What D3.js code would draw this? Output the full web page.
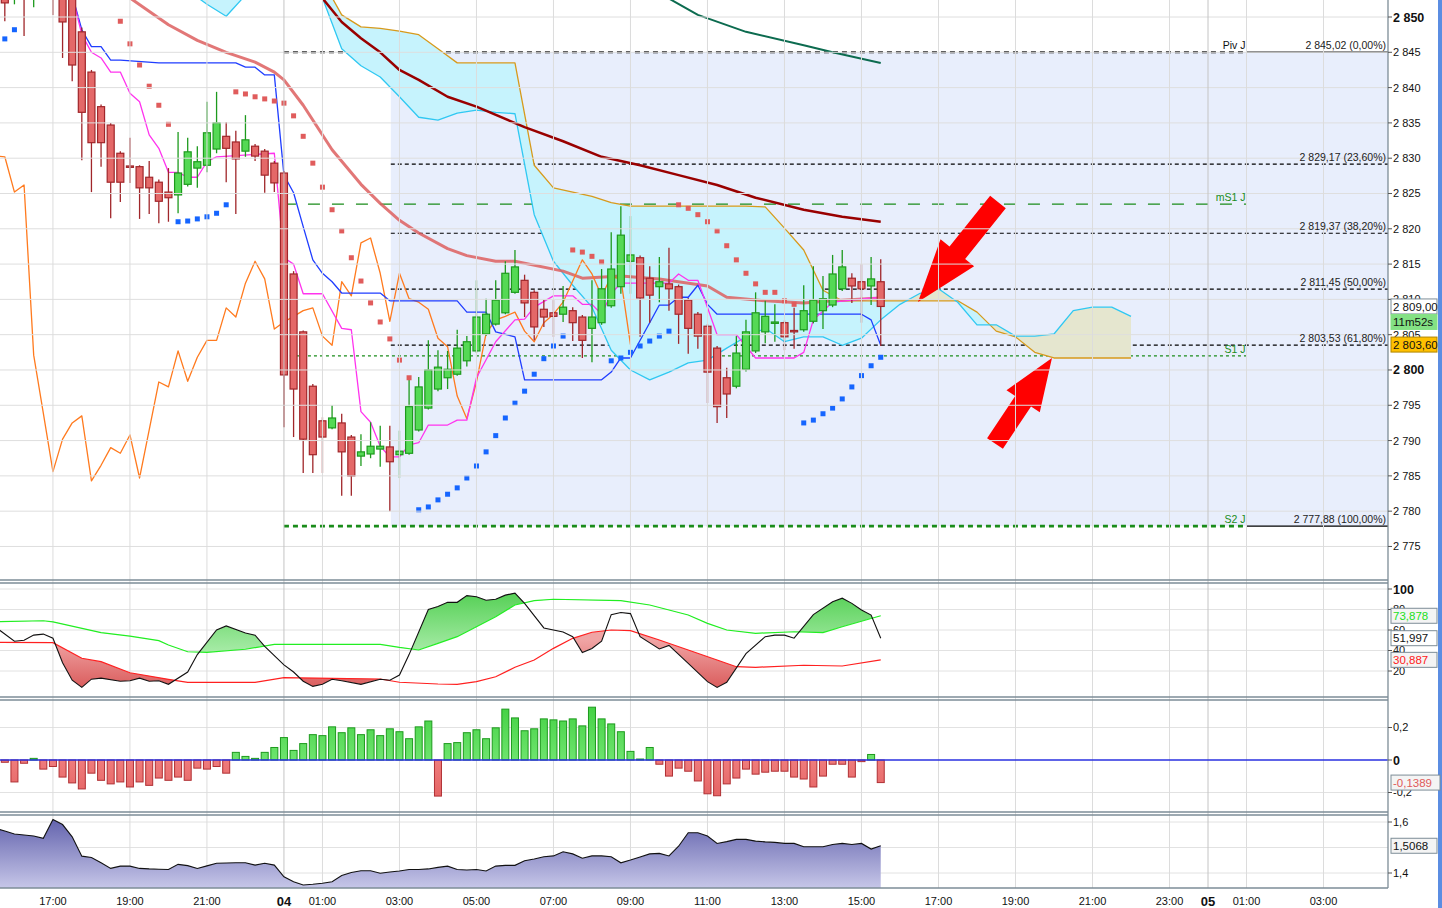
<!DOCTYPE html>
<html>
<head>
<meta charset="utf-8">
<script src="https://cdn.jsdelivr.net/npm/d3@7"></script>
<style>
  body { margin: 0; background: #fff; }
  svg { display: block; font-family: "Liberation Sans", Arial, sans-serif; }
</style>
</head>
<body>
<svg id="chart" width="1442" height="908"></svg>
<script>
// ---- data (bar index 0 = 04 00:00, one bar = 15 min) ----
var firstBar = -29;
var opens = [2856,2853.5,2858,2853,2855,2858,2855,2853,2847.9,2842.2,
  2837.3,2834.7,2830.7,2828.9,2828.8,2827.3,2826.6,2825.2,2824.8,2826.3,
  2828.6,2829.0,2831.3,2833.1,2832.3,2831.0,2831.7,2831.0,2829.3,2827.9,
  2813.6,2805.4,2797.7,2792.8,2791.8,2792.5,2790.5,2787.8,2788.1,2788.8,
  2789.1,2788.0,2788.2,2791.5,2794.6,2797.3,2798.9,2799.4,2801.3,2802.7,
  2805.1,2806.5,2808.1,2811.0,2812.7,2811.0,2808.6,2808.1,2807.9,2808.4,
  2807.5,2805.9,2806.7,2809.1,2811.8,2815.4,2815.9,2813.0,2811.8,2812.2,
  2811.8,2809.9,2807.9,2806.2,2803.1,2798.9,2797.7,2800.1,2802.7,2805.4,
  2806.6,2806.7,2805.6,2805.7,2806.9,2808.4,2809.2,2811.5,2813.0,2812.5,
  2811.9,2812.5];
var highs = [2858,2859,2860,2858,2859,2859,2857,2854,2848.5,2842.5,
  2837.6,2835,2831,2832.9,2829,2829.6,2827,2828.6,2833.7,2832.9,
  2831.7,2838.0,2839.4,2835.1,2833.9,2836.1,2832,2831.3,2829.6,2828.2,
  2814,2805.6,2798,2793.3,2795.0,2793.8,2790.8,2790.9,2792.6,2792.1,
  2792.1,2791.4,2798.7,2799.0,2804.2,2802.8,2802.7,2805.7,2804.8,2812.7,
  2810.1,2812.7,2815.4,2817.0,2813.5,2811.3,2809.9,2809.9,2811.9,2808.9,
  2807.8,2812.7,2814.3,2819.5,2823.2,2821.8,2816.2,2814.7,2816.0,2817.3,
  2812.1,2810.2,2808.2,2806.5,2803.4,2800.3,2804.8,2807.1,2811.0,2809.8,
  2809.3,2807.0,2808.8,2812.0,2814.7,2813.3,2816.3,2817.0,2813.7,2815.0,
  2816.0,2815.7];
var lows = [2849.4,2851.8,2847.3,2851.4,2853,2850.3,2844.2,2840.9,2829.7,2825.2,
  2828.8,2821.5,2823.8,2826.5,2821.4,2822.1,2820.8,2821,2822.2,2826,
  2825.8,2828.0,2830.7,2826.6,2822.1,2830.2,2829.6,2825.1,2825.2,2791.9,
  2790.5,2785.4,2785.4,2785.4,2791.6,2782.2,2782.2,2786.4,2787.5,2786.3,
  2780.0,2784.7,2788.0,2791.3,2794.4,2797.0,2797.3,2799.2,2800.5,2802.4,
  2804.8,2806.3,2807.9,2810.8,2807.5,2804.2,2806.1,2804.7,2806.8,2804.1,
  2801.7,2801.1,2806.4,2808.8,2810.8,2810.8,2804.7,2806.7,2809.6,2808.4,
  2803.7,2802.3,2803.0,2795.3,2792.5,2793.2,2797.4,2799.8,2802.4,2803.8,
  2804.0,2802.8,2803.0,2805.4,2806.6,2805.8,2808.9,2811.2,2809.5,2806.7,
  2809.2,2803.4];
var closes = [2852,2857,2853,2856,2857,2854,2849.3,2843.2,2836.5,2832.2,
  2832.2,2826.6,2826.6,2828.7,2825.8,2825.8,2823.9,2824.4,2827.9,2830.9,
  2829.5,2833.6,2835.0,2831.4,2829.9,2832.6,2830.3,2827.6,2826.5,2799.3,
  2797.3,2790.2,2788.0,2790.5,2793.2,2788.4,2785.0,2788.4,2789.2,2789.2,
  2787.0,2788.5,2794.8,2797.6,2800.0,2800.4,2800.1,2803.1,2804.0,2807.5,
  2807.9,2809.9,2813.7,2814.6,2809.5,2806.1,2807.5,2807.6,2808.9,2806.7,
  2804.2,2807.5,2811.5,2814.3,2819.1,2816.3,2810.2,2810.6,2812.5,2811.5,
  2807.9,2805.9,2804.8,2799.7,2794.8,2796.6,2802.4,2805.4,2808.1,2807.6,
  2806.8,2804.7,2805.4,2808.4,2809.9,2810.1,2813.6,2814.6,2811.9,2811.5,
  2812.9,2809.0];

// parabolic SAR, same bars as the candles (null = off the chart)
var sarValues = [2846.9,2848.2,null,null,null,null,null,null,null,null,
  null,null,2849.4,2846.2,2843.2,2840.2,2837.5,2834.8,2821.0,2821.1,
  2821.4,2821.7,2822.2,2823.4,2839.4,2839.1,2838.7,2838.4,2838.1,2837.8,
  2836.0,2833.1,2829.3,2825.9,2822.7,2819.7,2815.9,2812.6,2809.5,2806.8,
  2804.4,2801.4,2798.9,2780.2,2780.6,2781.6,2782.4,2783.3,2784.7,2786.4,
  2788.4,2790.7,2793.2,2795.3,2797.0,2799.4,2801.6,2803.4,2804.8,2817.0,
  2816.7,2816.1,2815.3,2801.3,2801.7,2802.5,2803.4,2804.1,2804.8,2805.5,
  2823.4,2822.9,2822.0,2821.0,2819.7,2817.6,2815.6,2813.7,2812.2,2811.0,
  2811.0,2809.8,2809.3,2792.5,2792.9,2793.8,2794.6,2795.9,2797.6,2799.2,
  2800.6,2801.8];

// moving averages, [bar, price]
var maFast = [[-16,2852.7],[-12,2848.9],[-9,2846.7],[-6,2845.0],[-3,2843.6],[-1,2842.2],[0,2841.1],
  [2,2837.5],[5,2831.2],[8,2826.3],[10,2823.6],[12,2821.2],[14,2819.4],[17,2817.2],[19,2816.2],
  [22,2815.4],[24,2815.4],[29,2814.0],[31,2813.0],[35,2813.3],[39,2812.9],[44,2811.9],[46,2810.3],
  [50,2809.8],[54,2809.5],[57,2809.8],[62,2810.2]];
var maMid = [[3.5,2853.5],[6,2849.3],[8,2847.0],[10,2845.0],[12,2842.5],[14,2841.1],[17,2838.7],
  [20,2837.3],[25,2834.4],[29,2832.4],[33,2830.2],[37,2829.0],[41,2827.6],[45,2826.2],[49,2824.4],
  [54,2822.7],[58,2821.7],[62,2821.0]];
var maSlow = [[39.5,2853.0],[43,2850.3],[48,2847.9],[54,2846.0],[57,2845.0],[62,2843.5]];

// ichimoku lines, [bar, price]
var kijun = [[-22,2853.1],[-21,2848.2],[-20,2845.8],[-19,2845.8],[-18,2843.9],[-17,2843.9],[-13,2843.5],
  [-5,2843.5],[-4,2842.9],[-3,2842.9],[-2,2841.8],[-1,2841.8],[0,2827.6],[1,2825.1],[2,2820.3],
  [3,2815.6],[4,2813.7],[5,2812.5],[6,2810.9],[10,2810.9],[11,2809.8],[18,2809.8],[19,2808.2],
  [21,2808.2],[22,2805.4],[24,2804.7],[25,2798.6],[33,2798.6],[34,2799.7],[35,2801.7],[36,2801.7],
  [39,2809.2],[40,2809.2],[41,2810.3],[42,2810.3],[43,2812.0],[44,2809.3],[45,2807.9],[60,2807.9],
  [61,2807.1],[62,2803.5]];
var tenkan = [[-22,2853.1],[-21,2847.5],[-20,2845.0],[-19,2844.2],[-18,2842.2],[-17,2842.2],[-16,2839.2],
  [-15,2838.0],[-14,2833.3],[-13,2831.4],[-12,2828.0],[-11,2828.0],[-10,2827.3],[-9,2827.3],
  [-8,2829.5],[-7,2830.2],[-1,2830.7],[0,2815.9],[1,2815.0],[2,2810.8],[4,2810.8],[6,2805.9],
  [7,2805.7],[8,2794.1],[9,2792.6],[10,2789.2],[11,2787.7],[12,2787.7],[13,2789.4],[14,2789.7],
  [15,2792.2],[17,2792.2],[18,2792.9],[19,2792.9],[20,2798.9],[22,2804.0],[24,2807.1],[25,2807.2],
  [26,2808.9],[28,2810.5],[30,2810.5],[31,2809.3],[32,2809.3],[33,2807.9],[34,2810.8],[35,2812.3],
  [40,2812.3],[41,2813.6],[42,2812.7],[43,2812.7],[45,2805.0],[47,2805.0],[49,2801.7],[53,2801.7],
  [54,2802.5],[55,2807.1],[57,2809.6],[59,2809.9],[61,2810.2],[62,2810.2]];
var chikouStart = -30;
var chikou = [2830.3,2830.2,2825.2,2826.2,2802.1,2793.9,2785.6,2790.2,2792.5,2793.5,
  2784.3,2786.5,2789.0,2788.2,2790.8,2784.7,2791.5,2798.3,2797.6,2802.7,
  2798.4,2801.8,2804.2,2804.2,2808.8,2807.5,2812.3,2815.4,2812.9,2805.8,
  2806.8,2807.6,2808.4,2808.8,2804.8,2803.5,2812.5,2810.5,2818.0,2818.7,
  2813.7,2806.9,2813.7,2810.1,2809.6,2808.6,2804.5,2803.3,2796.3,2793.1,
  2798.3,2805.2,2807.1,2807.6,2808.2,2805.5,2804.0,2806.7,2807.9,2809.6,
  2812.6,2815.6,2813.6,2810.5,2813.2,2812.9,2803.6];
// cloud, every second bar from -10
var cloudStart = -10, cloudStep = 2;
var spanA = [2858.1,2858.1,2858.1,2858.1,2858.1,2858.1,2858.1,2855.2,2850.3,2848.6,
  2848.4,2848.0,2847.5,2845.5,2843.5,2843.5,2843.5,2843.5,2829.0,2825.8,
  2825.2,2824.6,2823.7,2823.2,2823.2,2823.2,2823.2,2823.2,2823.2,2823.2,
  2823.1,2820.1,2817.0,2811.3,2809.8,2809.8,2809.8,2809.8,2809.8,2809.8,
  2809.8,2808.2,2805.5,2804.7,2802.5,2801.7,2801.7,2801.7,2801.7,2801.7];
var spanB = [2853.8,2851.8,2850.1,2853.1,2855.9,2855.9,2855.2,2852.7,2845.5,2843.1,
  2841.5,2838.7,2835.8,2835.4,2836.4,2836.8,2836.5,2836.3,2822.0,2815.4,
  2812.0,2808.9,2802.8,2800.0,2798.6,2799.7,2801.0,2801.4,2803.1,2804.7,
  2805.9,2804.0,2804.7,2804.7,2803.5,2804.5,2807.1,2809.3,2810.8,2811.5,
  2809.6,2806.4,2806.4,2804.8,2804.8,2805.1,2808.4,2808.9,2808.9,2807.6];

// daily pivots and fibonacci levels
var pivotNames = ["Piv J", "mS1 J", "S1 J", "S2 J"];
var pivotValues = [2845.02, 2823.5, 2802.0, 2777.88];
var fibValues = [2845.02, 2829.17, 2819.37, 2811.45, 2803.53, 2777.88];
var fibPct = ["0,00%", "23,60%", "38,20%", "50,00%", "61,80%", "100,00%"];

// stochastic panel, [bar, value]
var stochK = [[-30,63],[-28,49],[-27,50],[-26,55],[-25,56],[-24,52],[-23,28],[-22,11],[-21,4],[-20,12],
  [-19,13],[-17,10],[-16,10.5],[-15,13],[-14,10],[-13,10.5],[-12,7],[-10,19],[-9,36],[-7,60],[-6,64],
  [-4,57],[-3,55],[-2,44],[0,26],[1,19],[2,10],[3,5],[4,7],[5,12],[6,10.5],[8,7],[10,12],[11,11],
  [12,16],[13,36],[15,80],[16,83],[17,87],[18,87],[19,93.5],[20,92.5],[21,89],[22,90],[23,94],[24,96],
  [25,86],[27,62],[29,58],[30,53.5],[31,38],[32,42],[33,49],[34,75],[35,77],[36,76],[37,53.5],
  [39,41.5],[40,45],[42,27.5],[44,9.6],[45,4],[46,9],[48,37],[50,53.5],[51,55],[52,55],[53,52],
  [55,75],[57,87.6],[58,91],[59,86],[60,79.5],[61,74.6],[62,52]];
var stochHigh = [[-30,68],[-25,69],[-24,68],[-19,57.4],[-16,54],[-13,49.6],[-12,45.4],[-10,38.8],[-8,38.2],
  [-4,41.2],[-1,46],[10,46],[12,43],[14,40.5],[16,47],[18,53.5],[20,63.2],[22,73],[24,84.4],[26,88.6],
  [28,90],[35,88.6],[38,84.4],[42,74.6],[44,66.5],[46,60],[49,56.8],[53,58.3],[56,57.4],[58,63.2],[62,73.9]];
var stochLow = [[-30,48],[-24,47.6],[-21,32.4],[-19,29.1],[-16,18.3],[-12,11.9],[-10,9],[-3,9],[0,13.5],
  [5,12.9],[10,12.2],[12,9],[16,7.3],[18,7],[20,9.6],[22,14.4],[24,23.6],[26,30.7],[28,42.1],[30,51.9],
  [32,57.8],[34,60],[36,59.3],[39,50.2],[42,40.5],[45,30.7],[47,24.2],[49,23.6],[54,25.6],[58,24.9],[62,30.9]];

// macd histogram, same bars as the candles
var macdHist = [-0.014,-0.135,-0.02,0.01,-0.056,-0.04,-0.105,-0.141,-0.178,-0.081,
  -0.125,-0.147,-0.135,-0.166,-0.135,-0.156,-0.111,-0.125,-0.105,-0.125,
  -0.05,-0.056,-0.04,-0.081,0.047,0.022,0.01,0.047,0.077,0.138,
  0.059,0.101,0.156,0.15,0.204,0.168,0.198,0.156,0.186,0.15,
  0.192,0.174,0.131,0.204,0.240,-0.222,0.101,0.107,0.168,0.186,
  0.131,0.198,0.313,0.259,0.18,0.192,0.253,0.247,0.240,0.253,
  0.21,0.325,0.253,0.222,0.174,0.053,0.006,0.077,-0.026,-0.099,
  -0.05,-0.069,-0.129,-0.208,-0.22,-0.147,-0.111,-0.056,-0.087,-0.075,
  -0.069,-0.069,-0.105,-0.117,-0.166,-0.099,-0.026,-0.026,-0.105,-0.01,
  0.034,-0.139];

// volatility panel, from bar -30
var atrStart = -30;
var atr = [1.575,1.565,1.553,1.549,1.545,1.536,1.610,1.590,1.542,1.466,
  1.461,1.440,1.418,1.427,1.427,1.418,1.416,1.415,1.414,1.434,
  1.429,1.418,1.428,1.438,1.439,1.440,1.440,1.431,1.438,1.431,
  1.385,1.366,1.353,1.356,1.360,1.366,1.390,1.402,1.409,1.409,
  1.399,1.404,1.408,1.414,1.414,1.416,1.422,1.427,1.414,1.412,
  1.414,1.408,1.427,1.430,1.430,1.448,1.455,1.464,1.467,1.483,
  1.475,1.458,1.467,1.467,1.464,1.440,1.451,1.463,1.475,1.477,
  1.467,1.505,1.558,1.558,1.545,1.516,1.523,1.532,1.532,1.525,
  1.522,1.520,1.516,1.516,1.503,1.503,1.503,1.512,1.516,1.512,
  1.516,1.494,1.507];

// time axis
var timeTicks = [-24,-16,-8,0,4,12,20,28,36,44,52,60,68,76,84,92,96,100,108];
var timeLabels = ["17:00","19:00","21:00","04","01:00","03:00","05:00","07:00","09:00","11:00",
  "13:00","15:00","17:00","19:00","21:00","23:00","05","01:00","03:00"];

// annotations: [bar, price]
var arrows = [
  {tip: [65.87, 2809.63], tail: [74.18, 2823.8], shaft: 20, head: 43, headLen: 63},
  {tip: [79.79, 2801.7], tail: [73.87, 2789.59], shaft: 19, head: 40, headLen: 52}
];

// ---- drawing ----
var W = 1442, PR = 1388;
var loc = d3.formatLocale({decimal: ",", thousands: " ", grouping: [3], currency: ["", ""], minus: "-"});
var f0 = loc.format(",.0f"), f2 = loc.format(",.2f");

var svg = d3.select("#chart");
var x = d3.scaleLinear().domain([-29.5, 114.7]).range([0, PR]);
var yMain = d3.scaleLinear().domain([2770.25, 2852.41]).range([580, 0]);
var yStoch = d3.scaleLinear().domain([0, 100]).range([691.5, 589]);
var yMacd = d3.scaleLinear().domain([-0.2, 0.2]).range([792.5, 727.5]);
var yAtr = d3.scaleLinear().domain([1.4, 1.6]).range([873, 822]);

var defs = svg.append("defs");
function clip(id, y0, y1) {
  defs.append("clipPath").attr("id", id).append("rect")
    .attr("x", 0).attr("y", y0).attr("width", PR).attr("height", y1 - y0);
}
clip("cMain", 0, 580); clip("cStoch", 583, 697); clip("cMacd", 700, 812); clip("cAtr", 815, 888);
function grad(id, y0, y1, c0, c1) {
  var g = defs.append("linearGradient").attr("id", id).attr("gradientUnits", "userSpaceOnUse")
    .attr("x1", 0).attr("x2", 0).attr("y1", y0).attr("y2", y1);
  g.append("stop").attr("offset", 0).attr("stop-color", c0);
  g.append("stop").attr("offset", 1).attr("stop-color", c1);
}
grad("gAtr", 815, 888, "#5d5daa", "#c6c6e8");
grad("gStochUp", 590, 660, "#52cf52", "#b2efb2");
grad("gStochDn", 640, 692, "#f0a4a4", "#d85656");
grad("gUpBar", 700, 760, "#3fcf3f", "#6ee46e");
grad("gDnBar", 760, 812, "#ef7c7c", "#e05a5a");

svg.append("rect").attr("width", W).attr("height", 908).attr("fill", "#fff");

var main = svg.append("g").attr("clip-path", "url(#cMain)");
// fibonacci zone
main.append("rect")
  .attr("x", x(11.1)).attr("y", yMain(fibValues[0]))
  .attr("width", PR - x(11.1)).attr("height", yMain(fibValues[5]) - yMain(fibValues[0]))
  .attr("fill", "#e8eefc");

// grid
var gridG = svg.append("g").attr("stroke-width", 1).attr("fill", "none");
d3.range(2775, 2851, 5).forEach(function (v) {
  gridG.append("line").attr("x1", 0).attr("x2", PR).attr("y1", yMain(v)).attr("y2", yMain(v)).attr("stroke", "#dedede");
});
[20, 40, 60, 80, 100].forEach(function (v) {
  gridG.append("line").attr("x1", 0).attr("x2", PR).attr("y1", yStoch(v)).attr("y2", yStoch(v)).attr("stroke", "#e2e2e2");
});
[-0.2, 0.2].forEach(function (v) {
  gridG.append("line").attr("x1", 0).attr("x2", PR).attr("y1", yMacd(v)).attr("y2", yMacd(v)).attr("stroke", "#e2e2e2");
});
[1.4, 1.5, 1.6].forEach(function (v) {
  gridG.append("line").attr("x1", 0).attr("x2", PR).attr("y1", yAtr(v)).attr("y2", yAtr(v)).attr("stroke", "#e2e2e2");
});
timeTicks.forEach(function (t, i) {
  var day = timeLabels[i].length === 2;
  gridG.append("line").attr("x1", x(t)).attr("x2", x(t)).attr("y1", 0).attr("y2", 888)
    .attr("stroke", day ? "#c4c4c4" : "#dcdcdc");
});

// pivot and fib lines
var pivotStyle = [
  {color: "#000", width: 2, dash: "5,4"},
  {color: "#1a8c1a", width: 1.3, dash: "12,12"},
  {color: "#1a8c1a", width: 1.2, dash: "3,3"},
  {color: "#1a8c1a", width: 2.6, dash: "5,4"}
];
fibValues.forEach(function (v, i) {
  var solid = (i === 0 || i === fibValues.length - 1);
  main.append("line")
    .attr("x1", solid ? x(100) : x(11.1)).attr("x2", PR)
    .attr("y1", yMain(v)).attr("y2", yMain(v))
    .attr("stroke", "#000").attr("stroke-width", 1.2)
    .attr("stroke-dasharray", solid ? null : "4,3");
});
pivotValues.forEach(function (v, i) {
  var s = pivotStyle[i];
  main.append("line").attr("x1", x(0)).attr("x2", x(100))
    .attr("y1", yMain(v)).attr("y2", yMain(v))
    .attr("stroke", s.color).attr("stroke-width", s.width).attr("stroke-dasharray", s.dash);
});

// region between two lines where a is above b
function band(g, a, b, xs, ys, fill, id, top) {
  var pa = a.map(function (d) { return [xs(d[0]), ys(d[1])]; });
  var pb = b.map(function (d) { return [xs(d[0]), ys(d[1])]; });
  var clipPts = pb.concat([[pb[pb.length - 1][0], top], [pb[0][0], top]]);
  defs.append("clipPath").attr("id", id).append("path").attr("d", d3.line()(clipPts) + "Z");
  g.append("path").attr("d", d3.line()(pa.concat(pb.slice().reverse())) + "Z")
    .attr("fill", fill).attr("fill-rule", "evenodd").attr("clip-path", "url(#" + id + ")");
}

// cloud
var cloudA = spanA.map(function (v, i) { return [cloudStart + i * cloudStep, v]; });
var cloudB = spanB.map(function (v, i) { return [cloudStart + i * cloudStep, v]; });
band(main, cloudA, cloudB, x, yMain, "#c6f3fd", "cloudUp", -50);
band(main, cloudB, cloudA, x, yMain, "#e5e6cf", "cloudDn", -50);

var lineMain = d3.line().x(function (d) { return x(d[0]); }).y(function (d) { return yMain(d[1]); });
function drawLine(data, color, width, opacity) {
  main.append("path").attr("d", lineMain(data)).attr("fill", "none")
    .attr("stroke", color).attr("stroke-width", width).attr("stroke-opacity", opacity || 1)
    .attr("stroke-linejoin", "round");
}
drawLine(cloudA, "#d79a1c", 1.3);
drawLine(cloudB, "#2fc8f2", 1.3);
drawLine(maFast, "#dd5f5f", 3, 0.85);
drawLine(maMid, "#990000", 2.5);
drawLine(maSlow, "#0c6b4f", 2);
drawLine(chikou.map(function (v, i) { return [chikouStart + i, v]; }), "#ff7a1e", 1.3);
drawLine(kijun, "#1f3dff", 1.3);
drawLine(tenkan, "#ff33ee", 1.3);

// candles
var bars = opens.map(function (o, i) {
  return {j: firstBar + i, o: o, h: highs[i], l: lows[i], c: closes[i]};
});
var cg = main.append("g");
bars.forEach(function (b) {
  var up = b.c >= b.o;
  var cx = x(b.j);
  cg.append("line").attr("x1", cx).attr("x2", cx).attr("y1", yMain(b.h)).attr("y2", yMain(b.l))
    .attr("stroke", up ? "#1d9a1d" : "#a0262a").attr("stroke-width", 1.3);
  var top = yMain(Math.max(b.o, b.c)), bot = yMain(Math.min(b.o, b.c));
  cg.append("rect").attr("x", cx - 3.5).attr("y", top).attr("width", 7).attr("height", Math.max(1.2, bot - top))
    .attr("fill", up ? "#55d955" : "#e46868").attr("stroke", up ? "#1d9a1d" : "#a0262a").attr("stroke-width", 1.2);
});

// SAR
sarValues.forEach(function (v, i) {
  if (v === null) return;
  var above = v > closes[i];
  main.append("rect").attr("x", x(firstBar + i) - 2.5).attr("y", yMain(v) - 2.5)
    .attr("width", 5).attr("height", 5).attr("fill", above ? "#e05c5c" : "#1565ff");
});

// arrows
function arrowPts(tip, tail, sw, hw, hl) {
  var dx = tip[0] - tail[0], dy = tip[1] - tail[1], len = Math.hypot(dx, dy);
  var ux = dx / len, uy = dy / len, px = -uy, py = ux;
  var bx = tip[0] - ux * hl, by = tip[1] - uy * hl;
  return [
    [tail[0] + px * sw / 2, tail[1] + py * sw / 2], [bx + px * sw / 2, by + py * sw / 2],
    [bx + px * hw / 2, by + py * hw / 2], tip, [bx - px * hw / 2, by - py * hw / 2],
    [bx - px * sw / 2, by - py * sw / 2], [tail[0] - px * sw / 2, tail[1] - py * sw / 2]
  ];
}
arrows.forEach(function (a) {
  var tip = [x(a.tip[0]), yMain(a.tip[1])], tail = [x(a.tail[0]), yMain(a.tail[1])];
  main.append("path").attr("d", d3.line()(arrowPts(tip, tail, a.shaft, a.head, a.headLen)) + "Z")
    .attr("fill", "#ff0000");
});

// level labels
var lbl = svg.append("g").attr("font-size", 10.5);
pivotValues.forEach(function (v, i) {
  lbl.append("text").attr("x", x(100) - 1).attr("y", yMain(v) - 3).attr("text-anchor", "end")
    .attr("fill", i === 0 ? "#111" : "#1a8c1a").text(pivotNames[i]);
});
fibValues.forEach(function (v, i) {
  lbl.append("text").attr("x", PR - 2).attr("y", yMain(v) - 3).attr("text-anchor", "end")
    .attr("fill", "#222").text(f2(v) + " (" + fibPct[i] + ")");
});

// stochastic panel
var st = svg.append("g").attr("clip-path", "url(#cStoch)");
band(st, stochK, stochHigh, x, yStoch, "url(#gStochUp)", "stUp", 560);
band(st, stochLow, stochK, x, yStoch, "url(#gStochDn)", "stDn", 560);
var lineSt = d3.line().x(function (d) { return x(d[0]); }).y(function (d) { return yStoch(d[1]); });
st.append("path").attr("d", lineSt(stochHigh)).attr("fill", "none").attr("stroke", "#22ee22").attr("stroke-width", 1.2);
st.append("path").attr("d", lineSt(stochLow)).attr("fill", "none").attr("stroke", "#ff2020").attr("stroke-width", 1.2);
st.append("path").attr("d", lineSt(stochK)).attr("fill", "none").attr("stroke", "#111").attr("stroke-width", 1.1);

// macd panel
var mg = svg.append("g").attr("clip-path", "url(#cMacd)");
macdHist.forEach(function (v, i) {
  var cx = x(firstBar + i), y0 = yMacd(0), y1 = yMacd(v);
  mg.append("rect").attr("x", cx - 3.5).attr("y", Math.min(y0, y1)).attr("width", 7)
    .attr("height", Math.max(1, Math.abs(y1 - y0)))
    .attr("fill", v >= 0 ? "url(#gUpBar)" : "url(#gDnBar)")
    .attr("stroke", v >= 0 ? "#1d9a1d" : "#b03034").attr("stroke-width", 1);
});
mg.append("line").attr("x1", 0).attr("x2", PR).attr("y1", yMacd(0)).attr("y2", yMacd(0))
  .attr("stroke", "#2830e0").attr("stroke-width", 1.3);

// volatility panel
var ag = svg.append("g").attr("clip-path", "url(#cAtr)");
var atrPts = atr.map(function (v, i) { return [atrStart + i, v]; });
ag.append("path").attr("d", d3.area().x(function (d) { return x(d[0]); }).y0(888).y1(function (d) { return yAtr(d[1]); })(atrPts))
  .attr("fill", "url(#gAtr)");
ag.append("path").attr("d", d3.line().x(function (d) { return x(d[0]); }).y(function (d) { return yAtr(d[1]); })(atrPts))
  .attr("fill", "none").attr("stroke", "#111").attr("stroke-width", 1.1);

// frames
var fr = svg.append("g").attr("stroke", "#7d8d97").attr("stroke-width", 1.3);
[580, 583, 697, 700, 812, 815, 888].forEach(function (yy) {
  fr.append("line").attr("x1", 0).attr("x2", PR).attr("y1", yy).attr("y2", yy);
});
fr.append("line").attr("x1", PR).attr("x2", PR).attr("y1", 0).attr("y2", 888);
svg.append("rect").attr("x", 1438).attr("y", 0).attr("width", 4).attr("height", 908).attr("fill", "#5b8de2");

// axes
var ax = svg.append("g").attr("font-size", 11).attr("fill", "#111");
function tick(yy, text, bold, size) {
  ax.append("line").attr("x1", PR).attr("x2", PR + 4).attr("y1", yy).attr("y2", yy).attr("stroke", "#555");
  ax.append("text").attr("x", PR + 5).attr("y", yy).attr("dy", "0.36em")
    .attr("font-weight", bold ? "bold" : null).attr("font-size", size || 11).text(text);
}
d3.range(2775, 2851, 5).forEach(function (v) {
  var b = (v % 50 === 0);
  tick(yMain(v), f0(v), b, b ? 12.5 : 11);
});
[100, 80, 60, 40, 20].forEach(function (v) { tick(yStoch(v), String(v), v === 100, v === 100 ? 12.5 : 11); });
[0.2, 0, -0.2].forEach(function (v) { tick(yMacd(v), v === 0 ? "0" : loc.format(".1f")(v), v === 0, v === 0 ? 12.5 : 11); });
[1.6, 1.4].forEach(function (v) { tick(yAtr(v), loc.format(".1f")(v), false); });

function box(yy, text, fill, stroke, color, w) {
  var g = svg.append("g");
  g.append("rect").attr("x", PR + 3).attr("y", yy - 7.5).attr("width", w || 46).attr("height", 15)
    .attr("fill", fill).attr("stroke", stroke).attr("stroke-width", 1);
  g.append("text").attr("x", PR + 5).attr("y", yy).attr("dy", "0.36em").attr("font-size", 11.5)
    .attr("fill", color).text(text);
}
box(yMain(closes[closes.length - 1]), f2(closes[closes.length - 1]), "#fff", "#7d8d97", "#111");
box(yMain(closes[closes.length - 1]) + 15.5, "11m52s", "#84e184", "#84e184", "#111");
box(yMain(chikou[chikou.length - 1]), f2(chikou[chikou.length - 1]), "#ffc000", "#b08600", "#111");
box(yStoch(73.878), loc.format(".3f")(73.878), "#f4f4f4", "#7d8d97", "#22e022");
box(yStoch(51.997), loc.format(".3f")(51.997), "#fff", "#7d8d97", "#111");
box(yStoch(30.887), loc.format(".3f")(30.887), "#f4f4f4", "#7d8d97", "#ff2020");
box(yMacd(-0.1389), loc.format(".4f")(-0.1389), "#f4f4f4", "#7d8d97", "#e05a5a", 49);
box(yAtr(1.5068), loc.format(".4f")(1.5068), "#f4f4f4", "#7d8d97", "#111");

// time axis
timeTicks.forEach(function (t, i) {
  var day = timeLabels[i].length === 2;
  svg.append("text").attr("x", x(t)).attr("y", 901).attr("dy", "0.36em").attr("text-anchor", "middle")
    .attr("font-size", day ? 13 : 11).attr("font-weight", day ? "bold" : null).attr("fill", "#111")
    .text(timeLabels[i]);
});
</script>
</body>
</html>
